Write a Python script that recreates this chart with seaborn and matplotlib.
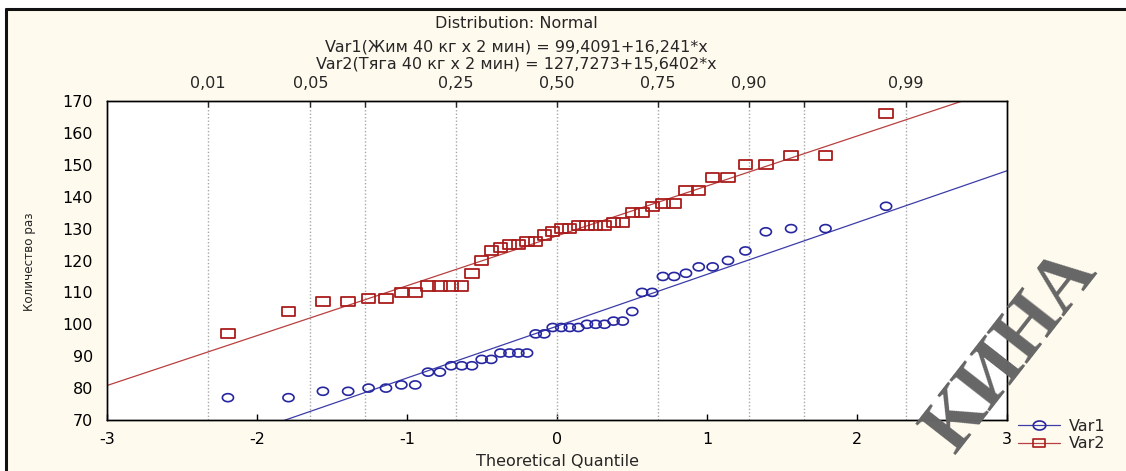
import numpy as np
import pandas as pd
import matplotlib
matplotlib.use("Agg")
import matplotlib.pyplot as plt
import seaborn as sns
from matplotlib.path import Path
from matplotlib.lines import Line2D
from statistics import NormalDist

# ---------------- data ----------------
var1_values = [77, 77, 79, 79, 80, 80, 81, 81, 85, 85, 87, 87, 87, 89, 89, 91, 91, 91, 91,
               97, 97, 99, 99, 99, 99, 100, 100, 100, 101, 101, 104, 110, 110, 115, 115,
               116, 118, 118, 120, 123, 129, 130, 130, 137]
var2_values = [97, 104, 107, 107, 108, 108, 110, 110, 112, 112, 112, 112, 116, 120, 123,
               124, 125, 125, 126, 126, 128, 129, 130, 130, 131, 131, 131, 131, 132, 132,
               135, 135, 137, 138, 138, 142, 142, 146, 146, 150, 150, 153, 153, 166]
series_names = ["Var1", "Var2"]
var1_intercept, var1_slope = 99.4091, 16.241
var2_intercept, var2_slope = 127.7273, 15.6402

prob_ticks = [0.01, 0.05, 0.10, 0.25, 0.50, 0.75, 0.90, 0.95, 0.99]
prob_labels = ["0,01", "0,05", "", "0,25", "0,50", "0,75", "0,90", "", "0,99"]
x_ticks = [-3, -2, -1, 0, 1, 2, 3]
y_ticks = [70, 80, 90, 100, 110, 120, 130, 140, 150, 160, 170]

title_text = "Distribution: Normal"
eq1_text = "Var1(Жим 40 кг х 2 мин) = 99,4091+16,241*x"
eq2_text = "Var2(Тяга 40 кг х 2 мин) = 127,7273+15,6402*x"
xlabel_text = "Theoretical Quantile"
ylabel_text = "Количество раз"
watermark_text = "КИНА"

# ---------------- styling ----------------
sns.set_style("white")
plt.rcParams["font.family"] = ["DejaVu Sans"]

BG = "#fffaee"
BLUE_M = "#2626a0"
BLUE_L = "#3c3ca8"
RED_M = "#aa1c1c"
RED_L = "#b84040"

n = len(var1_values)
nd = NormalDist()
quantiles = [nd.inv_cdf((i - 0.375) / (n + 0.25)) for i in range(1, n + 1)]
df = pd.DataFrame({
    "q": quantiles + quantiles,
    "value": var1_values + var2_values,
    "var": [series_names[0]] * n + [series_names[1]] * n,
})

t = np.linspace(0, 2 * np.pi, 48)
ellipse_marker = Path(np.column_stack([np.cos(t), 0.72 * np.sin(t)]), closed=True)
rect_marker = Path([(-1, -0.68), (1, -0.68), (1, 0.68), (-1, 0.68), (-1, -0.68)], closed=True)

W, H = 1126, 471
fig = plt.figure(figsize=(W / 100, H / 100), dpi=100, facecolor="white")

# window-like background and frame
fig.patches.append(plt.Rectangle((6 / W, 0), 1 - 6 / W, 1 - 9 / H, transform=fig.transFigure,
                                 facecolor=BG, edgecolor="none", zorder=-5))
fig.add_artist(Line2D([6 / W, 1], [1 - 9 / H, 1 - 9 / H], transform=fig.transFigure,
                      color="#111111", lw=2.2, zorder=-4))
fig.add_artist(Line2D([6 / W, 6 / W], [0, 1 - 9 / H], transform=fig.transFigure,
                      color="#111111", lw=2.2, zorder=-4))

ax = fig.add_axes([107 / W, 1 - 420 / H, 900 / W, 319 / H])
ax.set_zorder(1)
ax.set_facecolor("white")
xlim = (-3, 3)
ax.set_xlim(*xlim)
ax.set_ylim(70, 170)

# vertical probability grid lines
grid_pos = [nd.inv_cdf(p) for p in prob_ticks]
for gx in grid_pos:
    ax.axvline(gx, color="#a8a8a8", lw=1.0, ls=(0, (1, 1.5)), zorder=1)

# fit lines
line_x = np.array(xlim, dtype=float)
sns.lineplot(x=line_x, y=var1_intercept + var1_slope * line_x, color=BLUE_L, lw=0.9, ax=ax, zorder=2)
sns.lineplot(x=line_x, y=var2_intercept + var2_slope * line_x, color=RED_L, lw=0.9, ax=ax, zorder=2)

# points
d1 = df[df["var"] == series_names[0]]
d2 = df[df["var"] == series_names[1]]
sns.scatterplot(data=d1, x="q", y="value", marker=ellipse_marker, s=64, facecolor="none",
                edgecolor=BLUE_M, linewidth=1.2, ax=ax, zorder=3)
sns.scatterplot(data=d2, x="q", y="value", marker=rect_marker, s=92, facecolor="none",
                edgecolor=RED_M, linewidth=1.3, ax=ax, zorder=3)

ax.set_xticks(x_ticks)
ax.set_xticklabels([str(v) for v in x_ticks])
ax.set_yticks(y_ticks)
ax.tick_params(axis="both", direction="in", length=4, width=1, color="black",
               labelsize=11.5, labelcolor="black")
ax.tick_params(axis="x", pad=9)
ax.tick_params(axis="y", pad=10)
for s in ax.spines.values():
    s.set_color("black")
    s.set_linewidth(1.0)
ax.set_xlabel(xlabel_text, fontsize=11.5, labelpad=5)
ax.set_ylabel("")
fig.text(30 / W, 1 - 262 / H, ylabel_text, rotation=90, ha="center", va="center",
         fontsize=9.5, family=["DejaVu Sans"], fontstretch="condensed")

# top probability axis
ax2 = ax.twiny()
ax2.set_xlim(*xlim)
ax2.set_xticks(grid_pos)
ax2.set_xticklabels(prob_labels)
ax2.tick_params(axis="x", direction="in", length=4, width=1, labelsize=11.5, pad=7)
for s in ax2.spines.values():
    s.set_color("black")
    s.set_linewidth(1.0)
ax2.grid(False)

# titles
fig.text(516 / W, 1 - 24 / H, title_text, ha="center", va="center", fontsize=11.5)
fig.text(516 / W, 1 - 47 / H, eq1_text, ha="center", va="center", fontsize=11.5)
fig.text(516 / W, 1 - 64 / H, eq2_text, ha="center", va="center", fontsize=11.5)

# legend
handles = [
    Line2D([], [], color=BLUE_L, lw=0.9, marker=ellipse_marker, markersize=9,
           markerfacecolor="none", markeredgecolor=BLUE_M, markeredgewidth=1.2),
    Line2D([], [], color=RED_L, lw=0.9, marker=rect_marker, markersize=9,
           markerfacecolor="none", markeredgecolor=RED_M, markeredgewidth=1.2),
]
fig.legend(handles, series_names, loc="center left", bbox_to_anchor=(1018 / W, 1 - 435 / H),
           frameon=False, fontsize=11.5, handlelength=2.6, handletextpad=0.6,
           labelspacing=0.15, borderpad=0, borderaxespad=0)

# scanned-document watermark
fig.text(1012 / W, 1 - 352 / H, watermark_text, rotation=52, ha="center", va="center",
         fontsize=56, color="#666666", family=["Liberation Serif", "DejaVu Serif"],
         fontweight="bold", zorder=10)

fig.savefig("out.png", dpi=100, facecolor=fig.get_facecolor())
